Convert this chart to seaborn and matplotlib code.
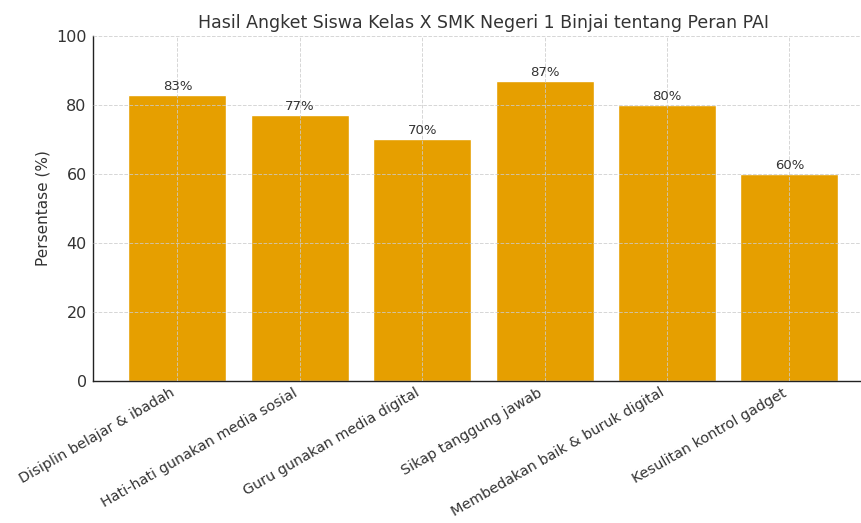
import matplotlib
matplotlib.use('Agg')
import matplotlib.pyplot as plt
import seaborn as sns
import pandas as pd

# data
kategori = [
    'Disiplin belajar & ibadah',
    'Hati-hati gunakan media sosial',
    'Guru gunakan media digital',
    'Sikap tanggung jawab',
    'Membedakan baik & buruk digital',
    'Kesulitan kontrol gadget',
]
persen = [83, 77, 70, 87, 80, 60]

df = pd.DataFrame({'Kategori': kategori, 'Persen': persen})

sns.set_style('white')
plt.rcParams['font.family'] = ['DejaVu Sans']
warna_teks = '#333333'

fig = plt.figure(figsize=(8.61, 5.23), dpi=100)
ax = fig.add_axes([0.108, 0.272, 0.907, 0.659])

sns.barplot(data=df, x='Kategori', y='Persen', color='#E69F00', saturation=1, ax=ax, width=0.8)

for i, v in enumerate(persen):
    ax.text(i, v + 0.6, f'{v}%', ha='center', va='bottom', fontsize=9.5, color=warna_teks)

ax.set_ylim(0, 100)
ax.set_xlim(-0.69, 5.69)
ax.set_title('Hasil Angket Siswa Kelas X SMK Negeri 1 Binjai tentang Peran PAI',
             fontsize=12.5, color=warna_teks, pad=6)
ax.set_ylabel('Persentase (%)', fontsize=11, color=warna_teks, labelpad=4)
ax.set_xlabel('')
ax.set_xticks(range(len(kategori)))
ax.set_xticklabels(kategori, rotation=30, ha='right', fontsize=10.4, color=warna_teks)
ax.tick_params(axis='both', length=3, width=0.8, color=warna_teks)
ax.tick_params(axis='y', labelsize=11.5, colors=warna_teks, pad=1.5)
ax.tick_params(axis='x', labelcolor=warna_teks, pad=0.5)

ax.set_axisbelow(False)
ax.grid(True, linestyle='--', color='#cccccc', linewidth=0.7, alpha=0.8)
sns.despine(ax=ax, top=True, right=True)
for s in ['left', 'bottom']:
    ax.spines[s].set_color('#222222')
    ax.spines[s].set_linewidth(1.0)

fig.savefig('out.png', dpi=100)
